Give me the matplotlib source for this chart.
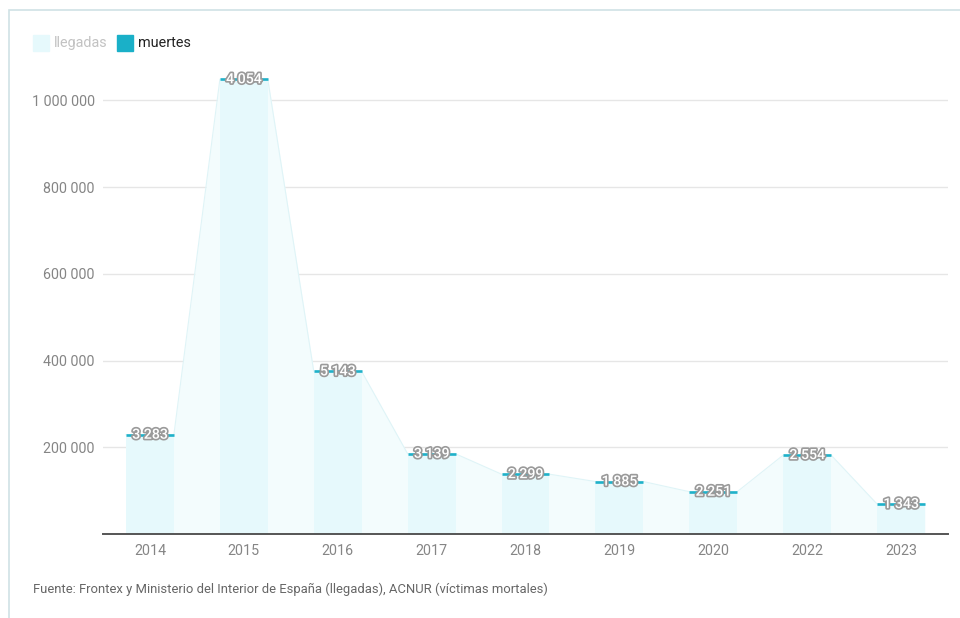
import matplotlib.pyplot as plt
import matplotlib.patheffects as pe
from matplotlib.patches import Rectangle

plt.rcParams['font.family'] = ['Roboto', 'DejaVu Sans']

# datos
years = ['2014', '2015', '2016', '2017', '2018', '2019', '2020', '2022', '2023']
llegadas = [229000, 1049000, 375000, 185000, 138000, 121000, 97600, 182000, 69000]
muertes = [3283, 4054, 5143, 3139, 2299, 1885, 2251, 2554, 1343]
yticks = [200000, 400000, 600000, 800000, 1000000]

BAR = '#e6f9fc'
AREA = '#f3fcfd'
TEAL = '#1fb1c9'


def fmt(v):
    return f'{v:,}'.replace(',', ' ')


def main():
    W, H = 960, 618
    fig = plt.figure(figsize=(W / 100, H / 100), dpi=100)

    # marco exterior
    fig.patches.append(Rectangle((9 / W, -0.05), 1.1, (H - 10) / H + 0.05,
                                 transform=fig.transFigure, fill=False,
                                 edgecolor='#cfe2e5', linewidth=1.2))

    ax = fig.add_axes([103 / W, 84 / H, 845 / W, 476.85 / H])
    x = list(range(len(years)))
    hw = 0.255

    # area entre barras
    ax_x, ax_y = [], []
    for i, v in zip(x, llegadas):
        ax_x += [i - hw, i + hw]
        ax_y += [v, v]
    ax.fill_between(ax_x, 0, ax_y, color=AREA, linewidth=0, zorder=1)
    ax.plot(ax_x, ax_y, color='#dff4f7', linewidth=0.8, zorder=1)

    ax.bar(x, llegadas, width=2 * hw, color=BAR, linewidth=0, zorder=2)

    # marcadores de muertes
    for i, v, m in zip(x, llegadas, muertes):
        ax.plot([i - hw, i + hw], [v, v], color=TEAL, linewidth=1.9,
                solid_capstyle='butt', zorder=4)
        ax.text(i, v, fmt(m), ha='center', va='center', fontsize=10.2,
                fontweight='medium', color='white', zorder=5,
                path_effects=[pe.withStroke(linewidth=2.4, foreground='#9a9a9a')])

    ax.set_xlim(-0.5, len(years) - 0.5)
    ax.set_ylim(0, 1100000)
    ax.set_yticks(yticks)
    ax.set_yticklabels([fmt(v) for v in yticks])
    ax.set_xticks(x)
    ax.set_xticklabels(years)
    ax.tick_params(axis='both', length=0, labelsize=10.3, colors='#858585')
    ax.tick_params(axis='y', pad=6)
    ax.tick_params(axis='x', pad=7)
    ax.grid(axis='y', color='#e6e6e6', linewidth=1)
    ax.set_axisbelow(True)
    for s in ['top', 'right', 'left']:
        ax.spines[s].set_visible(False)
    ax.spines['bottom'].set_color('#555555')
    ax.spines['bottom'].set_linewidth(1.4)
    ax.spines['bottom'].set_zorder(6)

    # leyenda
    fig.patches.append(Rectangle((33 / W, 1 - 51 / H), 16 / W, 16 / H,
                                 transform=fig.transFigure, color=BAR))
    fig.text(54 / W, 1 - 43 / H, 'llegadas', fontsize=10.4, color='#c2c2c2', va='center')
    fig.patches.append(Rectangle((117 / W, 1 - 51 / H), 16 / W, 16 / H,
                                 transform=fig.transFigure, color='#1ab0c8'))
    fig.text(138 / W, 1 - 43 / H, 'muertes', fontsize=10.4, color='#222222', va='center')

    fig.text(33 / W, 1 - 589 / H,
             'Fuente: Frontex y Ministerio del Interior de España (llegadas), ACNUR (víctimas mortales)',
             fontsize=9.4, color='#666666', va='center')

    fig.savefig('out.png', dpi=100)


if __name__ == '__main__':
    main()
